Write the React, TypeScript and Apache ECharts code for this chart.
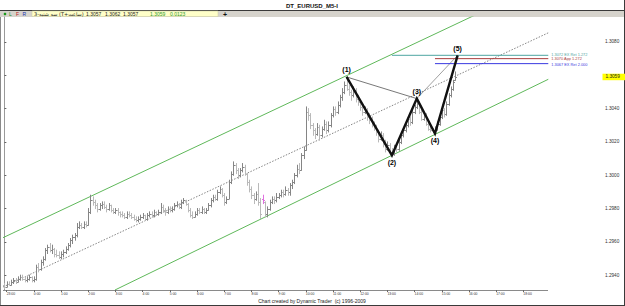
import React, { useEffect, useRef } from "react";
import * as echarts from "echarts";

// ---- data -------------------------------------------------------------
// M5 bars, first bar 22:55 (index 0); [open, high, low, close]
const bars: number[][] = [
  [1.2934,1.2935,1.2932,1.2933],[1.2933,1.2936,1.2933,1.2935],[1.2935,1.2936,1.2934,1.2934],[1.2934,1.2937,1.2934,1.2936],
  [1.2936,1.2938,1.2935,1.2937],[1.2937,1.2938,1.2935,1.2936],[1.2936,1.2939,1.2936,1.2938],[1.2938,1.2940,1.2937,1.2939],
  [1.2939,1.2940,1.2937,1.2938],[1.2938,1.2939,1.2936,1.2937],[1.2937,1.2939,1.2936,1.2938],[1.2938,1.2940,1.2937,1.2939],
  [1.2939,1.2939,1.2936,1.2937],[1.2937,1.2939,1.2936,1.2938],[1.2938,1.2946,1.2937,1.2945],[1.2945,1.2947,1.2942,1.2944],
  [1.2944,1.2949,1.2943,1.2948],[1.2948,1.2951,1.2946,1.2950],[1.2950,1.2956,1.2949,1.2955],[1.2955,1.2958,1.2953,1.2957],
  [1.2957,1.2959,1.2954,1.2955],[1.2955,1.2958,1.2953,1.2956],[1.2956,1.2956,1.2951,1.2953],[1.2953,1.2955,1.2951,1.2952],
  [1.2952,1.2954,1.2950,1.2951],[1.2951,1.2954,1.2950,1.2953],[1.2953,1.2955,1.2951,1.2954],[1.2954,1.2957,1.2953,1.2956],
  [1.2956,1.2959,1.2955,1.2958],[1.2958,1.2962,1.2957,1.2961],[1.2961,1.2964,1.2959,1.2963],[1.2963,1.2965,1.2961,1.2964],
  [1.2964,1.2971,1.2963,1.2969],[1.2969,1.2972,1.2968,1.2970],[1.2970,1.2971,1.2968,1.2969],[1.2969,1.2972,1.2968,1.2971],
  [1.2971,1.2972,1.2969,1.2970],[1.2970,1.2980,1.2970,1.2978],[1.2978,1.2988,1.2977,1.2985],[1.2985,1.2987,1.2982,1.2984],
  [1.2984,1.2985,1.2980,1.2982],[1.2982,1.2983,1.2978,1.2980],[1.2980,1.2983,1.2979,1.2982],[1.2982,1.2984,1.2980,1.2983],
  [1.2983,1.2984,1.2980,1.2981],[1.2981,1.2982,1.2978,1.2980],[1.2980,1.2983,1.2979,1.2982],[1.2982,1.2982,1.2978,1.2979],
  [1.2979,1.2980,1.2977,1.2978],[1.2978,1.2980,1.2977,1.2979],[1.2979,1.2980,1.2976,1.2978],[1.2978,1.2978,1.2975,1.2977],
  [1.2977,1.2978,1.2975,1.2976],[1.2976,1.2977,1.2974,1.2975],[1.2975,1.2978,1.2974,1.2977],[1.2977,1.2978,1.2975,1.2976],
  [1.2976,1.2977,1.2974,1.2975],[1.2975,1.2976,1.2973,1.2974],[1.2974,1.2975,1.2972,1.2973],[1.2973,1.2975,1.2972,1.2974],
  [1.2974,1.2976,1.2973,1.2975],[1.2975,1.2977,1.2974,1.2976],[1.2976,1.2976,1.2973,1.2974],[1.2974,1.2977,1.2973,1.2976],
  [1.2976,1.2978,1.2975,1.2977],[1.2977,1.2978,1.2975,1.2976],[1.2976,1.2979,1.2975,1.2978],[1.2978,1.2978,1.2976,1.2977],
  [1.2977,1.2979,1.2976,1.2978],[1.2978,1.2983,1.2977,1.2981],[1.2981,1.2982,1.2978,1.2979],[1.2979,1.2980,1.2976,1.2978],
  [1.2978,1.2981,1.2977,1.2980],[1.2980,1.2981,1.2978,1.2979],[1.2979,1.2981,1.2978,1.2980],[1.2980,1.2983,1.2979,1.2982],
  [1.2982,1.2984,1.2981,1.2983],[1.2983,1.2983,1.2980,1.2981],[1.2981,1.2985,1.2980,1.2984],[1.2984,1.2986,1.2983,1.2985],
  [1.2985,1.2985,1.2982,1.2983],[1.2983,1.2983,1.2978,1.2979],[1.2979,1.2980,1.2975,1.2976],[1.2976,1.2978,1.2974,1.2975],
  [1.2975,1.2978,1.2975,1.2977],[1.2977,1.2980,1.2976,1.2979],[1.2979,1.2980,1.2977,1.2978],[1.2978,1.2981,1.2977,1.2980],
  [1.2980,1.2980,1.2977,1.2978],[1.2978,1.2980,1.2977,1.2979],[1.2979,1.2983,1.2979,1.2982],[1.2982,1.2986,1.2981,1.2985],
  [1.2985,1.2988,1.2984,1.2987],[1.2987,1.2988,1.2985,1.2986],[1.2986,1.2991,1.2985,1.2990],[1.2990,1.2993,1.2989,1.2992],
  [1.2992,1.2992,1.2987,1.2988],[1.2988,1.2989,1.2982,1.2984],[1.2984,1.2987,1.2983,1.2986],[1.2986,1.2997,1.2986,1.2996],
  [1.2996,1.3002,1.2995,1.3001],[1.3001,1.3008,1.3000,1.3006],[1.3006,1.3007,1.3001,1.3003],[1.3003,1.3004,1.2998,1.3000],
  [1.3000,1.3004,1.2999,1.3003],[1.3003,1.3007,1.3002,1.3005],[1.3005,1.3006,1.3000,1.3001],[1.3001,1.3001,1.2994,1.2996],
  [1.2996,1.2997,1.2990,1.2992],[1.2992,1.2993,1.2986,1.2988],[1.2988,1.2989,1.2983,1.2986],[1.2986,1.2990,1.2985,1.2989],
  [1.2989,1.2995,1.2982,1.2984],[1.2984,1.2986,1.2974,1.2977],[1.2986,1.2988,1.2983,1.2985],[1.2984,1.2984,1.2975,1.2977],
  [1.2977,1.2981,1.2975,1.2980],[1.2980,1.2985,1.2979,1.2984],[1.2984,1.2987,1.2983,1.2986],[1.2986,1.2987,1.2983,1.2985],
  [1.2985,1.2989,1.2984,1.2987],[1.2987,1.2989,1.2986,1.2988],[1.2988,1.2991,1.2987,1.2990],[1.2990,1.2991,1.2987,1.2989],
  [1.2989,1.2993,1.2988,1.2991],[1.2991,1.2992,1.2988,1.2990],[1.2990,1.2995,1.2988,1.2994],[1.2994,1.2997,1.2992,1.2996],
  [1.2996,1.3001,1.2995,1.3000],[1.3000,1.3006,1.2999,1.3004],[1.3004,1.3007,1.3001,1.3003],[1.3003,1.3013,1.3003,1.3012],
  [1.3012,1.3017,1.3010,1.3015],[1.3015,1.3041,1.3015,1.3038],[1.3038,1.3040,1.3033,1.3036],[1.3036,1.3037,1.3028,1.3030],
  [1.3030,1.3031,1.3024,1.3027],[1.3027,1.3028,1.3022,1.3025],[1.3025,1.3031,1.3024,1.3029],[1.3029,1.3030,1.3021,1.3024],
  [1.3024,1.3029,1.3023,1.3028],[1.3028,1.3033,1.3027,1.3031],[1.3031,1.3032,1.3025,1.3027],[1.3027,1.3032,1.3026,1.3030],
  [1.3030,1.3037,1.3029,1.3036],[1.3036,1.3041,1.3035,1.3040],[1.3040,1.3041,1.3036,1.3038],[1.3038,1.3044,1.3037,1.3042],
  [1.3042,1.3048,1.3041,1.3047],[1.3047,1.3052,1.3045,1.3050],[1.3050,1.3056,1.3049,1.3054],[1.3054,1.3059,1.3051,1.3052],
  [1.3052,1.3054,1.3048,1.3050],[1.3050,1.3051,1.3045,1.3048],[1.3048,1.3053,1.3047,1.3051],[1.3051,1.3052,1.3044,1.3046],
  [1.3046,1.3048,1.3042,1.3044],[1.3044,1.3045,1.3039,1.3041],[1.3041,1.3042,1.3036,1.3038],[1.3038,1.3041,1.3037,1.3039],
  [1.3039,1.3040,1.3033,1.3035],[1.3035,1.3037,1.3031,1.3033],[1.3033,1.3035,1.3029,1.3031],[1.3031,1.3032,1.3027,1.3029],
  [1.3029,1.3030,1.3024,1.3026],[1.3026,1.3027,1.3020,1.3022],[1.3022,1.3026,1.3021,1.3024],[1.3024,1.3025,1.3017,1.3019],
  [1.3019,1.3021,1.3014,1.3016],[1.3016,1.3020,1.3015,1.3018],[1.3018,1.3019,1.3013,1.3014],[1.3014,1.3016,1.3012,1.3013],
  [1.3013,1.3018,1.3012,1.3017],[1.3017,1.3019,1.3014,1.3016],[1.3016,1.3021,1.3015,1.3020],[1.3020,1.3025,1.3019,1.3024],
  [1.3024,1.3028,1.3023,1.3027],[1.3027,1.3031,1.3026,1.3030],[1.3030,1.3035,1.3029,1.3034],[1.3034,1.3035,1.3030,1.3032],
  [1.3032,1.3039,1.3031,1.3038],[1.3038,1.3042,1.3037,1.3041],[1.3041,1.3046,1.3040,1.3043],[1.3043,1.3044,1.3037,1.3038],
  [1.3038,1.3039,1.3033,1.3034],[1.3034,1.3037,1.3033,1.3036],[1.3036,1.3037,1.3030,1.3031],[1.3031,1.3032,1.3027,1.3028],
  [1.3028,1.3030,1.3026,1.3027],[1.3027,1.3028,1.3026,1.3026],[1.3026,1.3029,1.3025,1.3028],[1.3028,1.3032,1.3027,1.3031],
  [1.3031,1.3036,1.3030,1.3035],[1.3035,1.3040,1.3034,1.3039],[1.3039,1.3040,1.3035,1.3037],[1.3037,1.3044,1.3036,1.3043],
  [1.3043,1.3049,1.3042,1.3048],[1.3048,1.3053,1.3047,1.3052],[1.3052,1.3057,1.3051,1.3056],[1.3057,1.3062,1.3057,1.3059],
];
const markedBars = [114];

const hourTickIndex = [1, 13, 25, 37, 49, 61, 73, 85, 97, 109, 121, 133, 145, 157, 169, 181, 193, 205, 217, 229];
const hourLabels = ["23:00", "0:00", "1:00", "2:00", "3:00", "4:00", "5:00", "6:00", "7:00", "8:00", "9:00", "10:00",
  "11:00", "12:00", "13:00", "14:00", "15:00", "16:00", "17:00", "18:00"];
const priceTicks = [1.294, 1.296, 1.298, 1.3, 1.302, 1.304, 1.306, 1.308];
const priceLabels = [1.294, 1.296, 1.298, 1.3, 1.302, 1.304, 1.308]; // 1.3060 is covered by the last-price tag
const lastPrice = 1.3059;

const patternIndex = [151, 171, 182, 190, 200];
const patternPrice = [1.3059, 1.3012, 1.3046, 1.3025, 1.3072];
const patternLabels = ["(1)", "(2)", "(3)", "(4)", "(5)"];

const upperChannel = [[-0.6, 1.29625], [240, 1.31169]];
const lowerChannel = [[48.8, 1.29311], [240, 1.30576]];
const midChannel = [[-0.6, 1.29329], [240, 1.30855]];

const targetPrices = [1.3072, 1.307, 1.3067];
const targetStart = [171, 190, 190];
const targetEnd = 240;
const targetLabels = ["1.3072 EX Ret 1.272", "1.3070 App 1.272", "1.3067 EX Ret 2.000"];

const toolbarValues = ["1.3057", "1.3062", "1.3057", "1.3059", "0.0123"];

// ---- chart ------------------------------------------------------------
const FONT = "Liberation Sans, Arial, sans-serif";
const targetColors = ["#4ea6a2", "#a83c3c", "#3a3ae0"];
const targetLabelOffsets = [[0, -1.2], [0, 0], [0, 1.2]];
const X_MIN = -0.6;
const X_MAX = 263.7;

export default function App() {
  const ref = useRef<HTMLDivElement>(null);
  useEffect(() => {
    document.body.style.margin = "0";
    const chart = echarts.init(ref.current!, null, { renderer: "svg" });
    const p = (i: number) => [patternIndex[i], patternPrice[i]];

    const series: any[] = [
      {
        type: "line", data: upperChannel, symbol: "none", silent: true,
        lineStyle: { color: "#5fb85a", width: 1 }, z: 1,
      },
      {
        type: "line", data: lowerChannel, symbol: "none", silent: true,
        lineStyle: { color: "#5fb85a", width: 1 }, z: 1,
      },
      {
        type: "line", data: midChannel, symbol: "none", silent: true,
        lineStyle: { color: "#666", width: 0.8, type: [1.5, 1.5] }, z: 1,
      },
      {
        type: "custom",
        data: bars.map((b, i) => [i, b[0], b[1], b[2], b[3]]),
        encode: { x: 0, y: [1, 2, 3, 4] },
        clip: true,
        z: 2,
        renderItem: (params: any, api: any) => {
          const i = api.value(0);
          const o = api.value(1), h = api.value(2), l = api.value(3), c = api.value(4);
          const ph = api.coord([i, h]);
          const pl = api.coord([i, l]);
          const po = api.coord([i, o]);
          const pc = api.coord([i, c]);
          const x = Math.round(ph[0]) + 0.5;
          const color = markedBars.includes(i) ? "#e070e0" : c >= o ? "#858585" : "#b9b9b9";
          const st = { stroke: color, lineWidth: 1 };
          return {
            type: "group",
            children: [
              { type: "line", shape: { x1: x, y1: ph[1] - 0.5, x2: x, y2: pl[1] + 0.5 }, style: st },
              { type: "line", shape: { x1: x - 1.5, y1: Math.round(po[1]) + 0.5, x2: x, y2: Math.round(po[1]) + 0.5 }, style: st },
              { type: "line", shape: { x1: x, y1: Math.round(pc[1]) + 0.5, x2: x + 1.5, y2: Math.round(pc[1]) + 0.5 }, style: st },
            ],
          };
        },
      },
      {
        type: "line", data: [p(0), p(2)], symbol: "none", silent: true,
        lineStyle: { color: "#555", width: 0.8 }, z: 3,
      },
      {
        type: "line", data: [p(2), p(4)], symbol: "none", silent: true,
        lineStyle: { color: "#888", width: 0.8 }, z: 3,
      },
      ...targetPrices.map((tp, k) => ({
        type: "line", data: [[targetStart[k], tp], [targetEnd, tp]], symbol: "none", silent: true,
        lineStyle: { color: targetColors[k], width: 1 }, z: 3,
        endLabel: {
          show: true, formatter: targetLabels[k], color: targetColors[k], fontSize: 3.9,
          fontFamily: FONT, distance: 3, offset: targetLabelOffsets[k],
        },
      })),
      {
        type: "line", data: patternIndex.map((x, k) => [x, patternPrice[k]]), symbol: "none", silent: true,
        lineStyle: { color: "#111", width: 2.4, join: "miter" }, z: 4,
      },
      {
        type: "scatter", symbolSize: 1, silent: true, z: 6, clip: false,
        itemStyle: { opacity: 0 },
        data: [[X_MAX, lastPrice]],
        label: {
          show: true, position: "right", distance: 0, opacity: 1,
          formatter: lastPrice.toFixed(4),
          backgroundColor: "#ffff00", color: "#222", fontSize: 4.7, fontFamily: FONT,
          textBorderWidth: 0, padding: [1, 6, 0.5, 3],
        },
      },
    ];

    const frame: any[] = [
      { type: "rect", shape: { x: 0, y: 10.5, width: 625, height: 6.5 }, style: { fill: "#d6d3cc" }, silent: true },
      { type: "line", shape: { x1: 0, y1: 10.5, x2: 625, y2: 10.5 }, style: { stroke: "#3a3a3a", lineWidth: 1 } },
      {
        type: "text", x: 312, y: 5.5,
        style: { text: "DT_EURUSD_M5-I", fontSize: 6, fontWeight: "bold", fill: "#111", align: "center", verticalAlign: "middle", fontFamily: FONT },
      },
      { type: "circle", shape: { cx: 5, cy: 14, r: 1.3 }, style: { fill: "#1a9a1a" } },
      { type: "text", x: 9, y: 14, style: { text: "L", fontSize: 5, fill: "#1a8a1a", verticalAlign: "middle", fontFamily: FONT } },
      { type: "text", x: 16, y: 14, style: { text: "F", fontSize: 5, fill: "#c02020", verticalAlign: "middle", fontFamily: FONT } },
      { type: "text", x: 22.5, y: 14, style: { text: "R", fontSize: 5, fill: "#2030b0", verticalAlign: "middle", fontFamily: FONT } },
      { type: "rect", shape: { x: 32, y: 11, width: 186, height: 5.5 }, style: { fill: "#ffffc8", stroke: "#c8c8a0", lineWidth: 0.5 } },
      { type: "text", x: 34, y: 14, style: { text: "3-سه شنبه (T+ساعت)", fontSize: 5, fill: "#222", verticalAlign: "middle", fontFamily: "DejaVu Sans, sans-serif" } },
      { type: "text", x: 86, y: 14, style: { text: toolbarValues[0], fontSize: 5, fill: "#222", verticalAlign: "middle", fontFamily: FONT } },
      { type: "text", x: 105, y: 14, style: { text: toolbarValues[1], fontSize: 5, fill: "#222", verticalAlign: "middle", fontFamily: FONT } },
      { type: "text", x: 123, y: 14, style: { text: toolbarValues[2], fontSize: 5, fill: "#222", verticalAlign: "middle", fontFamily: FONT } },
      { type: "text", x: 150, y: 14, style: { text: toolbarValues[3], fontSize: 5, fill: "#2c9a2c", verticalAlign: "middle", fontFamily: FONT } },
      { type: "text", x: 170, y: 14, style: { text: toolbarValues[4], fontSize: 5, fill: "#2c9a2c", verticalAlign: "middle", fontFamily: FONT } },
      { type: "text", x: 225, y: 14, style: { text: "+", fontSize: 7, fontWeight: "bold", fill: "#111", align: "center", verticalAlign: "middle", fontFamily: FONT } },
      { type: "line", shape: { x1: 0.5, y1: 17, x2: 0.5, y2: 306 }, style: { stroke: "#8a8a8a", lineWidth: 1 } },
      { type: "line", shape: { x1: 624.5, y1: 0, x2: 624.5, y2: 306 }, style: { stroke: "#3a3a3a", lineWidth: 1 } },
      { type: "line", shape: { x1: 0, y1: 305.5, x2: 625, y2: 305.5 }, style: { stroke: "#3a3a3a", lineWidth: 1 } },
      { type: "line", shape: { x1: 3, y1: 290.5, x2: 548, y2: 290.5 }, style: { stroke: "#8a8a8a", lineWidth: 1 } },
      {
        type: "text", x: 312, y: 301,
        style: { text: "Chart created by Dynamic Trader  (c) 1996-2009", fontSize: 5, fill: "#222", align: "center", verticalAlign: "middle", fontFamily: FONT },
      },
    ];

    chart.setOption({
      animation: false,
      backgroundColor: "#ffffff",
      grid: { left: 3, right: 23, top: 17, bottom: 16, containLabel: false },
      xAxis: {
        type: "value", min: X_MIN, max: X_MAX,
        axisLine: { show: false },
        splitLine: { show: false },
        axisTick: { show: true, customValues: hourTickIndex, length: 2, lineStyle: { color: "#666" } },
        axisLabel: {
          customValues: hourTickIndex,
          formatter: (v: number) => hourLabels[hourTickIndex.indexOf(Math.round(v))] ?? "",
          fontSize: 3.4, color: "#333", align: "left", margin: 2, fontFamily: FONT,
        },
      },
      yAxis: {
        type: "value", position: "right", min: 1.29311, max: 1.3095,
        axisLine: { show: true, lineStyle: { color: "#9a9a9a" } },
        splitLine: { show: false },
        axisTick: { show: true, customValues: priceTicks, length: 2, lineStyle: { color: "#666" } },
        axisLabel: {
          customValues: priceLabels, formatter: (v: number) => v.toFixed(4),
          fontSize: 4.7, color: "#333", margin: 3, fontFamily: FONT,
        },
      },
      series,
      graphic: frame,
    });

    // pattern point labels, placed at the points through the chart's own scales
    const labels = patternIndex.map((x, k) => {
      const pt = chart.convertToPixel({ gridIndex: 0 }, [x, patternPrice[k]]) as number[];
      const above = k % 2 === 0;
      return {
        type: "text", x: pt[0], y: pt[1] + (above ? -3.5 : 3.5), z: 100,
        style: {
          text: patternLabels[k], fill: "#000000", fontSize: 7, fontWeight: "bold", fontFamily: FONT,
          align: "center", verticalAlign: above ? "bottom" : "top",
        },
      };
    });
    chart.setOption({ graphic: [...frame, ...labels] });

    return () => chart.dispose();
  }, []);
  return <div ref={ref} style={{ width: 625, height: 306 }} />;
}
